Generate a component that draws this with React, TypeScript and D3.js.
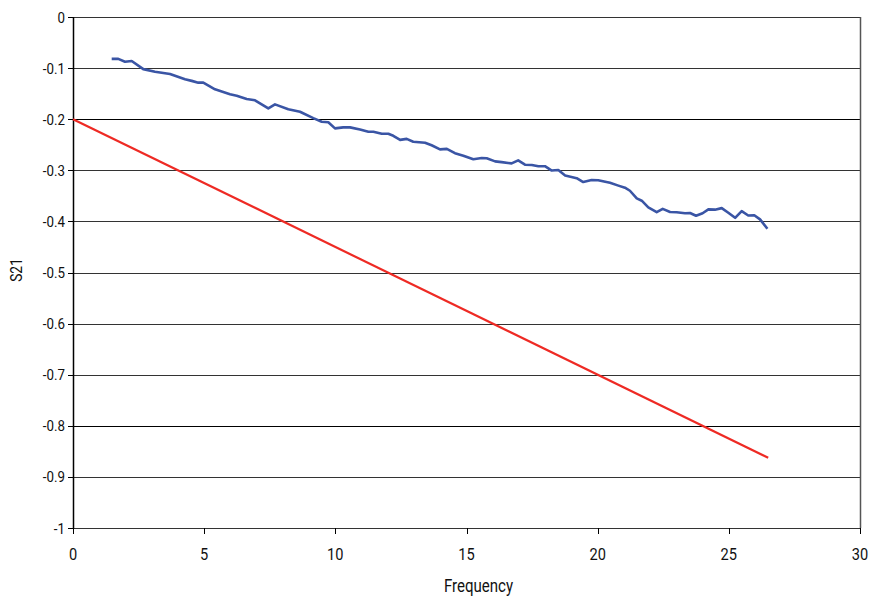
import React from "react";
import * as d3 from "d3";

const freq = [1.475, 1.727, 1.982, 2.238, 2.68, 3.126, 3.698, 4.269, 4.525, 4.776, 4.967, 5.413, 5.985, 6.24, 6.621, 6.938, 7.445, 7.7, 8.207, 8.653, 9.16, 9.48, 9.732, 9.987, 10.3, 10.56, 10.94, 11.26, 11.45, 11.77, 12.02, 12.21, 12.47, 12.72, 12.97, 13.42, 13.67, 13.99, 14.25, 14.56, 14.88, 15.26, 15.58, 15.77, 16.09, 16.34, 16.72, 16.97, 17.23, 17.49, 17.74, 17.99, 18.25, 18.5, 18.76, 19.2, 19.45, 19.77, 20.02, 20.47, 20.79, 21.04, 21.23, 21.49, 21.68, 21.93, 22.25, 22.48, 22.76, 23.01, 23.33, 23.52, 23.75, 24.0, 24.22, 24.47, 24.73, 24.98, 25.24, 25.49, 25.74, 25.97, 26.19, 26.47];
const s21 = [-0.082, -0.082, -0.0875, -0.086, -0.102, -0.107, -0.1115, -0.122, -0.125, -0.1285, -0.1285, -0.1415, -0.151, -0.154, -0.1605, -0.163, -0.179, -0.171, -0.1805, -0.1855, -0.198, -0.205, -0.206, -0.218, -0.216, -0.216, -0.22, -0.2245, -0.2245, -0.2285, -0.2285, -0.2325, -0.2405, -0.2385, -0.244, -0.246, -0.251, -0.259, -0.258, -0.2665, -0.2715, -0.2785, -0.276, -0.2765, -0.2825, -0.284, -0.2865, -0.2805, -0.289, -0.2895, -0.292, -0.292, -0.3005, -0.2995, -0.31, -0.3155, -0.323, -0.319, -0.3195, -0.3245, -0.33, -0.334, -0.34, -0.355, -0.3595, -0.3725, -0.382, -0.3755, -0.3815, -0.382, -0.384, -0.3835, -0.389, -0.384, -0.3765, -0.377, -0.374, -0.383, -0.393, -0.380, -0.3885, -0.388, -0.396, -0.4145];

const limitFreq = [0, 26.5];
const limitS21 = [-0.2, -0.8625];

const xTicks = [0, 5, 10, 15, 20, 25, 30];
const yTicks = [0, -0.1, -0.2, -0.3, -0.4, -0.5, -0.6, -0.7, -0.8, -0.9, -1];
const yTickLabels = ["0", "-0.1", "-0.2", "-0.3", "-0.4", "-0.5", "-0.6", "-0.7", "-0.8", "-0.9", "-1"];

const W = 873;
const H = 603;
const left = 73;
const right = 860;
const top = 17;
const bottom = 528;
const FONT = "Roboto, 'DejaVu Sans Condensed', sans-serif";
const SX = 0.86;

export default function App() {
  const x = d3.scaleLinear().domain([0, 30]).range([left, right]);
  const y = d3.scaleLinear().domain([-1, 0]).range([bottom, top]);
  const line = d3
    .line<[number, number]>()
    .x((d) => x(d[0]))
    .y((d) => y(d[1]));
  const measured: [number, number][] = freq.map((f, i) => [f, s21[i]]);
  const limit: [number, number][] = limitFreq.map((f, i) => [f, limitS21[i]]);

  return (
    <svg
      width={W}
      height={H}
      style={{ position: "absolute", left: 0, top: 0, background: "#fff" }}
      fontFamily={FONT}
    >
      <rect x={0} y={0} width={W} height={H} fill="#fff" />
      {yTicks.map((t) => (
        <line
          key={"g" + t}
          x1={left}
          x2={right}
          y1={Math.round(y(t)) + 0.5}
          y2={Math.round(y(t)) + 0.5}
          stroke={t === -0.8 || t === -0.2 ? "#000" : "#333"}
          strokeWidth={1.2}
        />
      ))}
      <line x1={right + 0.5} x2={right + 0.5} y1={top} y2={bottom} stroke="#555" strokeWidth={1.5} />
      <line x1={left + 0.5} x2={left + 0.5} y1={top} y2={bottom + 1} stroke="#000" strokeWidth={1.5} />
      {yTicks.map((t, i) => (
        <g key={"yt" + t}>
          <line x1={left - 5} x2={left} y1={Math.round(y(t)) + 0.5} y2={Math.round(y(t)) + 0.5} stroke="#000" />
          <text
            transform={`translate(${left - 8}, ${y(t) + 5.5}) scale(${SX}, 1)`}
            textAnchor="end"
            fontSize={15.5}
            fill="#111"
          >
            {yTickLabels[i]}
          </text>
        </g>
      ))}
      {xTicks.map((t) => (
        <g key={"xt" + t}>
          <line x1={Math.round(x(t)) + 0.5} x2={Math.round(x(t)) + 0.5} y1={bottom} y2={bottom + 6} stroke="#000" />
          <text
            transform={`translate(${x(t)}, ${bottom + 32}) scale(${SX}, 1)`}
            textAnchor="middle"
            fontSize={17}
            fill="#111"
          >
            {t}
          </text>
        </g>
      ))}
      <path d={line(limit) || ""} fill="none" stroke="#ee2a24" strokeWidth={2.2} />
      <path d={line(measured) || ""} fill="none" stroke="#3a55a5" strokeWidth={2.6} strokeLinejoin="round" />
      <text
        transform={`translate(${(left + right) / 2 + 12}, 592) scale(${SX}, 1)`}
        textAnchor="middle"
        fontSize={17.5}
        fill="#111"
      >
        Frequency
      </text>
      <text
        transform={`translate(22, 270) rotate(-90) scale(${SX}, 1)`}
        textAnchor="middle"
        fontSize={16}
        fill="#111"
      >
        S21
      </text>
    </svg>
  );
}
